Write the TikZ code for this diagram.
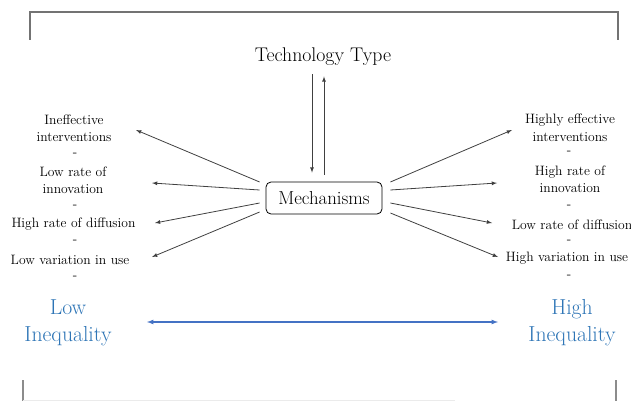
\documentclass[tikz,border=0pt]{standalone}
\usepackage{tikz}
\usetikzlibrary{arrows}
\definecolor{ineqblue}{RGB}{46,117,182}
\definecolor{axisblue}{RGB}{68,114,196}

\begin{document}
\begin{tikzpicture}[x=1pt, y=-1pt,
	item/.style={shape=rectangle, inner sep=0pt, align=center, font=\fontsize{13.6}{17.5}\selectfont},
	sep/.style={shape=rectangle, inner sep=0pt, font=\fontsize{13.6}{17}\selectfont},
	ineq/.style={shape=rectangle, align=center, text=ineqblue, font=\fontsize{21.7}{27}\selectfont},
	link/.style={-latex, black!75, line width=0.8pt}]
	\useasboundingbox (0,0) rectangle (631,401);
	% Frame:
	\draw[black!55, line width=1.2pt] (30,40) -- (30,12) -- (618,12) -- (618,40);
	\draw[black!45, line width=1.2pt] (23,380) -- (23,401);
	\draw[black!45, line width=1.2pt] (616,380) -- (616,401);
	\draw[black!8, line width=1pt] (23,400) -- (455,400);
	% Centre nodes:
	\node[shape=rectangle, font=\fontsize{19.8}{24}\selectfont](T) at (323,57){Technology Type};
	\node[draw, rounded corners=5pt, minimum width=116pt, minimum height=32pt, line width=0.8pt, font=\fontsize{18.8}{22}\selectfont](M) at (324,198){Mechanisms};
	\draw[link, shorten <=5pt, shorten >=9pt] ([xshift=-11pt]T.south) -- ([xshift=-12pt]M.north);
	\draw[link, shorten <=7pt, shorten >=7pt] (M.north) -- ([xshift=1pt]T.south);
	% Left column:
	\node[item](L1) at (74,128.5){Ineffective\\interventions};
	\node[sep](LS1) at (75,155){-};
	\node[item](L2) at (73,180.5){Low rate of\\innovation};
	\node[sep](LS2) at (75,207){-};
	\node[item](L3) at (73.5,224){High rate of diffusion};
	\node[sep](LS3) at (75,242){-};
	\node[item](L4) at (70,260){Low variation in use};
	\node[sep](LS4) at (75,278){-};
	% Right column:
	\node[item](R1) at (570,128){Highly effective\\interventions};
	\node[sep](RS1) at (569,153){-};
	\node[item](R2) at (570,179.5){High rate of\\innovation};
	\node[sep](RS2) at (569,207){-};
	\node[item](R3) at (572,225){Low rate of diffusion};
	\node[sep](RS3) at (569,242){-};
	\node[item](R4) at (567,258){High variation in use};
	\node[sep](RS4) at (569,277){-};
	% Arrow tips:
	\coordinate (la1) at (136,130);
	\coordinate (la2) at (152,183);
	\coordinate (la3) at (155,223);
	\coordinate (la4) at (152,257);
	\coordinate (ra1) at (512,130);
	\coordinate (ra2) at (497,183);
	\coordinate (ra3) at (492,223);
	\coordinate (ra4) at (498,257);
	\draw[link] ([xshift=-6pt, yshift=16pt]M.west) -- (la1);
	\draw[link] ([xshift=-6pt, yshift=8pt]M.west) -- (la2);
	\draw[link] ([xshift=-6pt, yshift=-5pt]M.west) -- (la3);
	\draw[link] ([xshift=-6pt, yshift=-14pt]M.west) -- (la4);
	\draw[link] ([xshift=8pt, yshift=16pt]M.east) -- (ra1);
	\draw[link] ([xshift=8pt, yshift=8pt]M.east) -- (ra2);
	\draw[link] ([xshift=8pt, yshift=-5pt]M.east) -- (ra3);
	\draw[link] ([xshift=8pt, yshift=-15pt]M.east) -- (ra4);
	% Inequality scale:
	\node[ineq](LI) at (68,323){Low\\Inequality};
	\node[ineq](HI) at (572,323){High\\Inequality};
	\draw[latex-latex, axisblue, line width=1.2pt] (147,322) -- (498,322);
\end{tikzpicture}
\end{document}
